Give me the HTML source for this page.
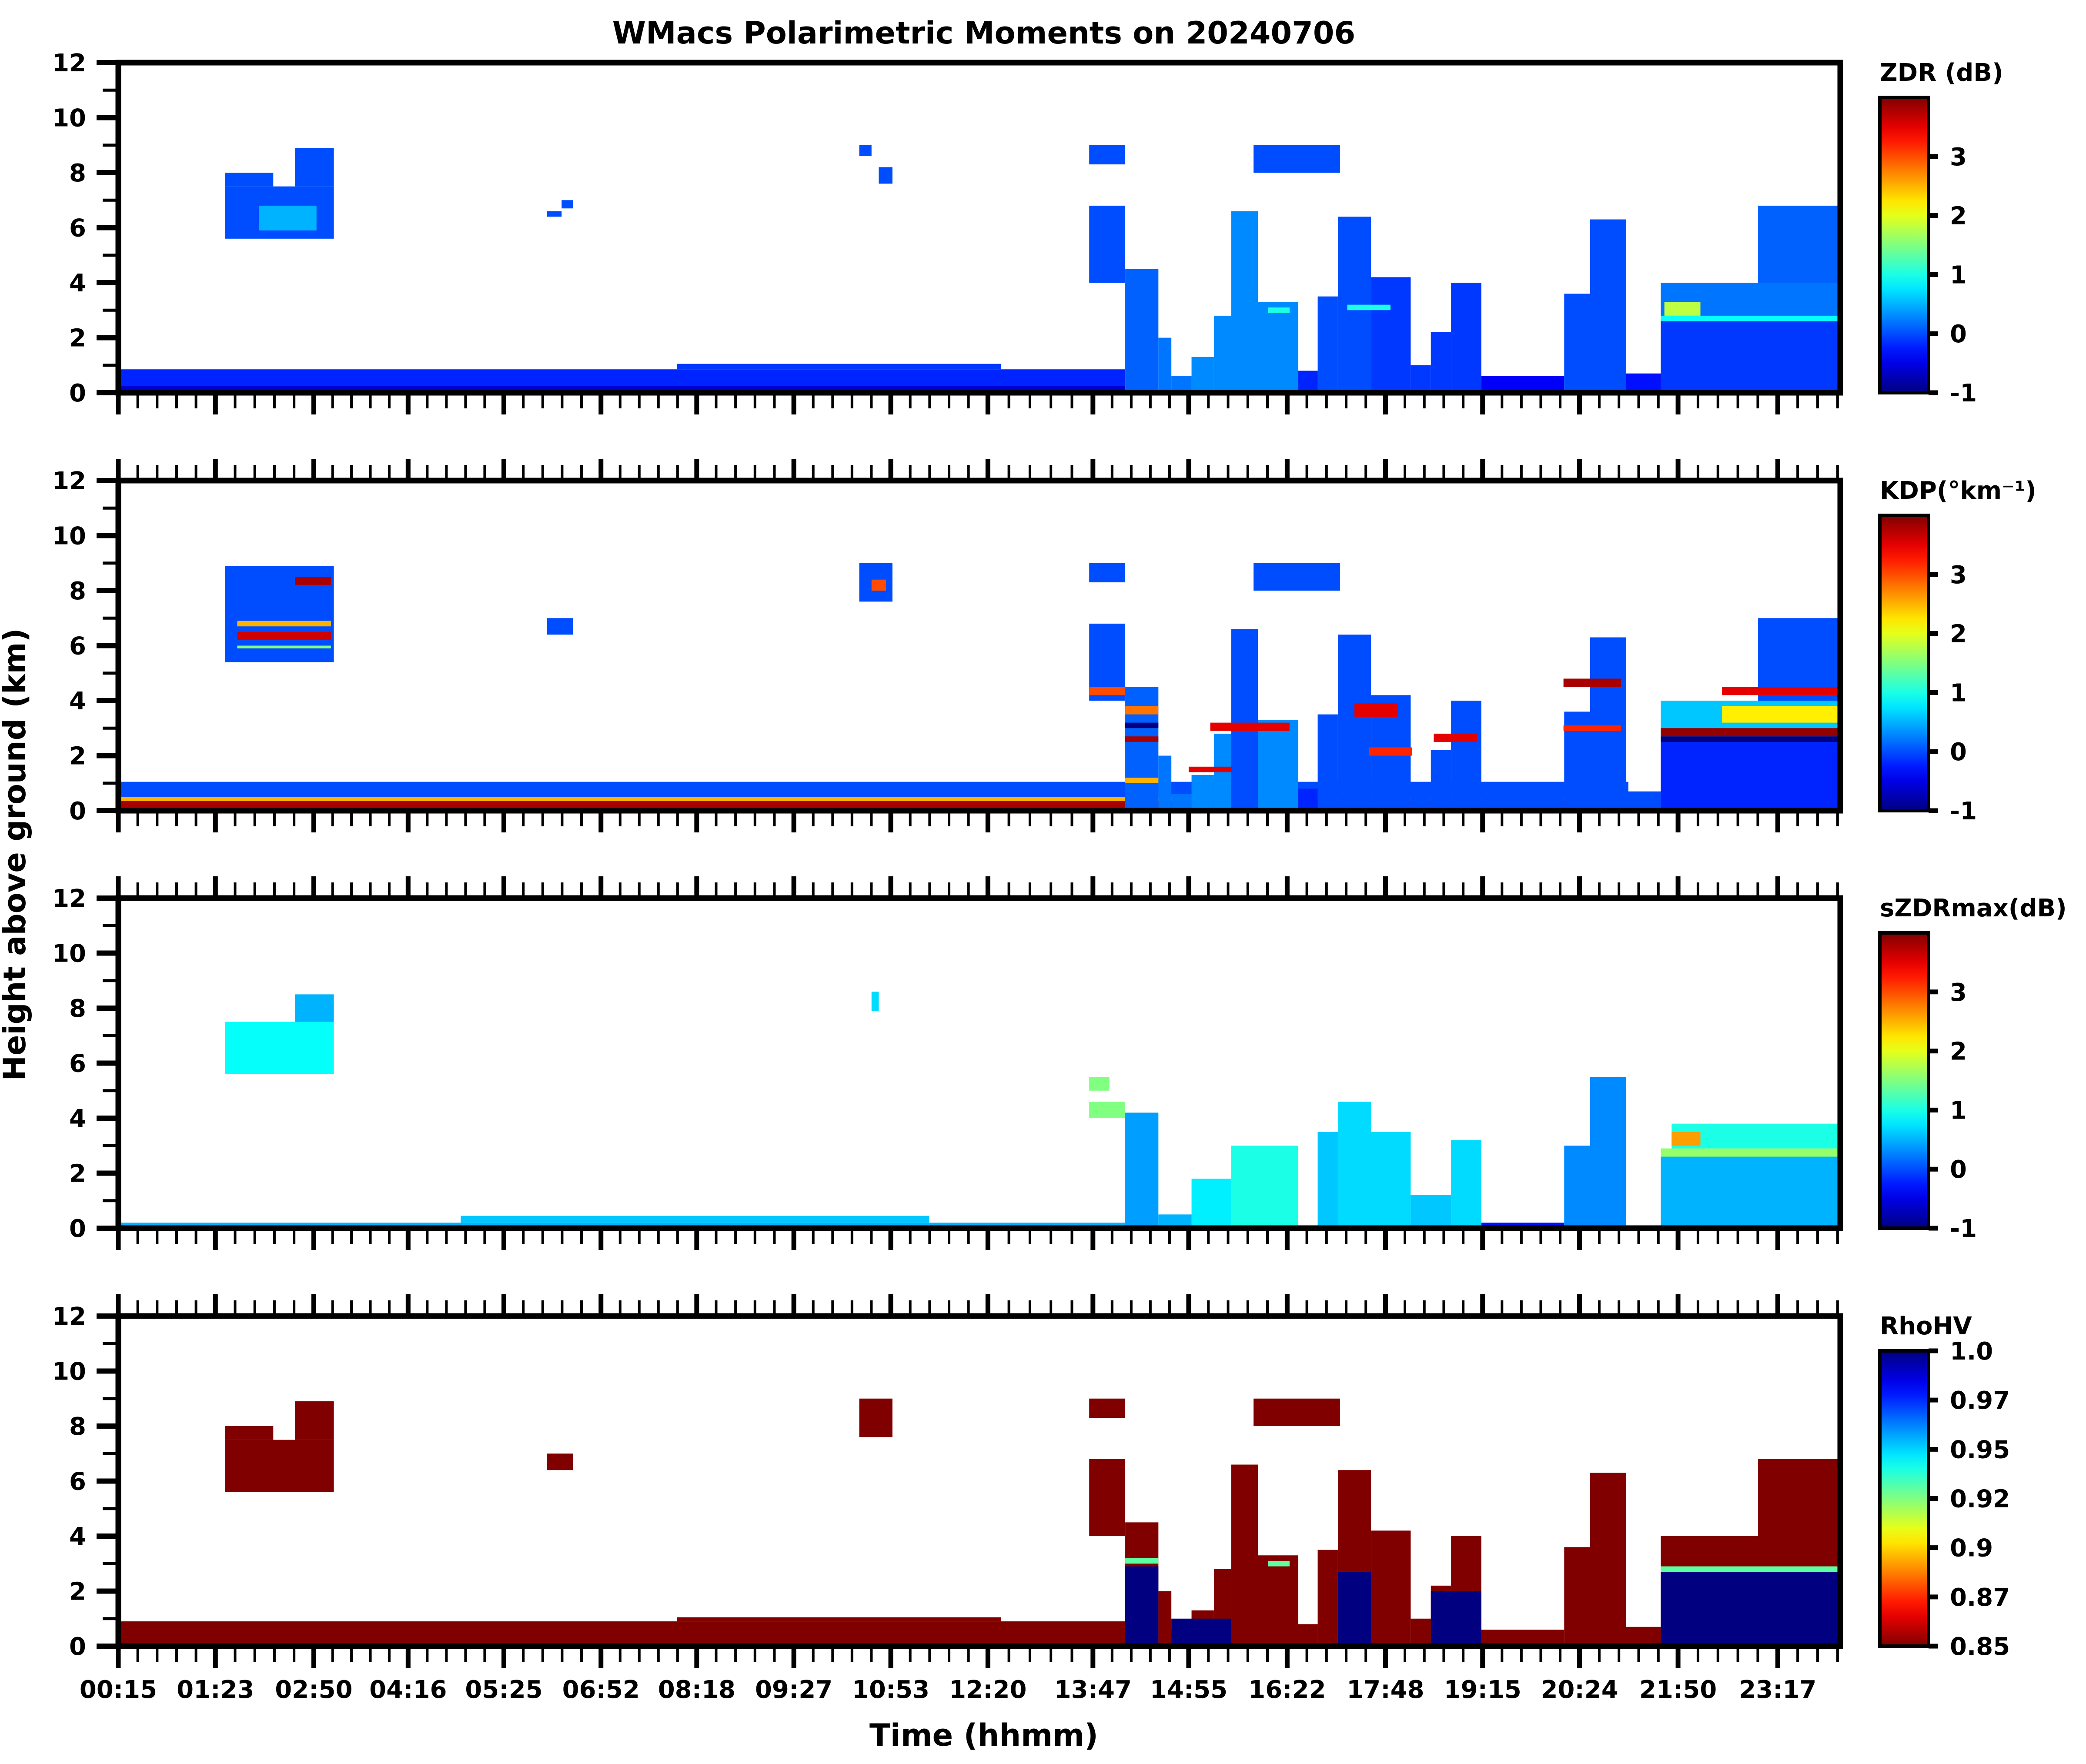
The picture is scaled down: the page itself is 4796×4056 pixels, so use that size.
<!DOCTYPE html>
<html><head><meta charset="utf-8"><title>WMacs Polarimetric Moments</title>
<style>
html,body{margin:0;padding:0;background:#fff;}
svg{display:block;font-family:"DejaVu Sans","Liberation Sans",sans-serif;font-weight:bold;}
</style></head>
<body>
<svg id="fig" xmlns="http://www.w3.org/2000/svg" width="4796" height="4056" viewBox="0 0 4796 4056">
<rect x="0" y="0" width="4796" height="4056" fill="#fff"/>
<text x="2262" y="100" font-size="70" text-anchor="middle">WMacs Polarimetric Moments on 20240706</text>
<text x="2262" y="4014" font-size="70" text-anchor="middle">Time (hhmm)</text>
<text x="0" y="0" font-size="70" text-anchor="middle" transform="translate(58,1965) rotate(-90)">Height above ground (km)</text>
</svg>
<script>
// ---- data arrays ----
const tickLabels = ["00:15","01:23","02:50","04:16","05:25","06:52","08:18","09:27","10:53","12:20","13:47","14:55","16:22","17:48","19:15","20:24","21:50","23:17"];
const heightTicks = [0,2,4,6,8,10,12];
const panelNames = ["ZDR (dB)", "KDP(°km⁻¹)", "sZDRmax(dB)", "RhoHV"];
const cbTicks123 = [-1,0,1,2,3];
const rhoTicks = [0.85,0.875,0.9,0.925,0.95,0.975,1.0];
const rhoTickLabels = ["0.85","0.87","0.9","0.92","0.95","0.97","1.0"];
// segments: [t0 (h), t1 (h), h0 (km), h1 (km), value]
const zdrCells = [
 [0.25,14.22,0,0.85,-0.2],[0.25,14.22,0,0.25,-0.6],[8,12.5,0.85,1.05,-0.1],
 [1.73,3.24,5.6,7.5,0.0],[2.2,3.0,5.9,6.8,0.5],[2.7,3.24,7.5,8.9,0.0],[1.73,2.4,7.5,8.0,0.0],
 [6.2,6.4,6.4,6.6,0],[6.4,6.56,6.7,7.0,0],[10.53,10.7,8.6,9.0,0],[10.8,10.99,7.6,8.2,0],
 [13.72,14.22,8.3,9.0,0],[13.72,14.22,4.0,6.8,0],
 [14.22,14.68,0,4.5,0.1],[14.68,14.86,0,2,0.2],[14.86,15.14,0,0.6,0.2],[15.14,15.45,0,1.3,0.3],
 [15.45,15.69,0,2.8,0.3],[15.69,16.06,0,6.6,0.3],[16.06,16.62,0,3.3,0.3],[16.62,16.89,0,0.8,-0.2],
 [16.89,17.17,0,3.5,0],[17.17,17.63,0,6.4,0],[17.63,18.18,0,4.2,-0.1],[18.18,18.46,0,1.0,-0.1],
 [18.46,18.74,0,2.2,-0.1],[18.74,19.16,0,4.0,-0.1],[19.16,20.31,0,0.6,-0.4],[20.31,20.67,0,3.6,0],
 [20.67,21.17,0,6.3,0],[21.17,21.65,0,0.7,-0.3],[21.65,24.14,0,2.7,-0.1],[21.65,24.14,2.7,4.0,0.2],
 [23.0,24.14,4.0,6.8,0.1],[16.0,17.2,8.0,9.0,0],[16.2,16.5,2.9,3.1,1.0],[17.3,17.9,3.0,3.2,1.0],
 [21.65,24.14,2.6,2.8,0.9],[21.7,22.2,2.8,3.3,1.8]
];
const kdpCells = [
 [0.25,21.2,0,1.05,0],[0.25,21.2,0,0.35,3.8],[0.25,21.2,0.35,0.5,2.5],
 [1.73,3.24,5.4,8.9,0],[1.9,3.2,6.2,6.5,3.6],[1.9,3.2,6.7,6.9,2.5],[2.7,3.2,8.2,8.5,3.8],[1.9,3.2,5.9,6.0,1.5],
 [6.2,6.56,6.4,7.0,0],[10.53,10.99,7.6,9.0,0],[10.7,10.9,8.0,8.4,3.0],
 [13.72,14.22,8.3,9.0,0],[13.72,14.22,4.0,6.8,0],[13.72,14.22,4.2,4.5,3.0],
 [14.22,14.68,0,4.5,0.1],[14.68,14.86,0,2,0.2],[14.86,15.14,0,0.6,0.2],[15.14,15.45,0,1.3,0.3],
 [15.45,15.69,0,2.8,0.3],[15.69,16.06,0,6.6,0],[16.06,16.62,0,3.3,0.3],[16.62,16.89,0,0.8,-0.2],
 [16.89,17.17,0,3.5,0],[17.17,17.63,0,6.4,0],[17.63,18.18,0,4.2,0],[18.18,18.46,0,1.0,0],
 [18.46,18.74,0,2.2,0],[18.74,19.16,0,4.0,0],[19.16,20.31,0,0.6,0],[20.31,20.67,0,3.6,0],
 [20.67,21.17,0,6.3,0],[21.17,21.65,0,0.7,0],[21.65,24.14,0,2.7,-0.2],[21.65,24.14,2.7,4.0,0.6],
 [23.0,24.14,4.0,7.0,0],[16.0,17.2,8.0,9.0,0],
 [14.22,14.68,2.5,2.7,3.8],[14.22,14.68,3.5,3.8,2.8],[14.22,14.68,1.0,1.2,2.5],[15.4,16.5,2.9,3.2,3.5],
 [15.1,15.7,1.4,1.6,3.5],[17.4,18.0,3.4,3.9,3.5],[17.6,18.2,2.0,2.3,3.2],[18.5,19.1,2.5,2.8,3.5],
 [20.3,21.1,4.5,4.8,3.8],[20.3,21.1,2.9,3.1,3.2],[21.65,24.14,2.7,3.0,3.9],[22.5,24.14,3.2,3.8,2.2],
 [22.5,24.14,4.2,4.5,3.5],[14.22,14.68,3.0,3.2,-1],[21.65,24.14,2.5,2.7,-1]
];
const szdrCells = [
 [0.25,14.22,0.05,0.2,0.5],[5.0,11.5,0.2,0.45,0.6],
 [1.73,3.24,5.6,7.5,0.9],[2.7,3.24,7.5,8.5,0.5],[10.7,10.8,7.9,8.6,0.7],
 [13.72,14.22,4.0,4.6,1.5],[13.72,14.0,5.0,5.5,1.5],
 [14.22,14.68,0,4.2,0.4],[14.68,15.14,0,0.5,0.5],[15.14,15.69,0,1.8,0.8],[15.69,16.62,0,3.0,1.0],
 [16.89,17.17,0,3.5,0.6],[17.17,17.63,0,4.6,0.7],[17.63,18.18,0,3.5,0.7],[18.18,18.74,0,1.2,0.6],
 [18.74,19.16,0,3.2,0.7],[19.16,20.31,0,0.2,-0.3],[20.31,20.67,0,3.0,0.3],[20.67,21.17,0,5.5,0.3],
 [21.65,24.14,0,2.7,0.5],[21.65,24.14,2.6,2.9,1.6],[21.8,24.14,2.9,3.8,1.0],[21.8,22.2,3.0,3.5,2.6]
];
const rhoCells = [
 [0.25,14.22,0,0.9,0.85],[8,12.5,0.9,1.05,0.85],
 [1.73,3.24,5.6,7.5,0.85],[2.7,3.24,7.5,8.9,0.85],[1.73,2.4,7.5,8.0,0.85],
 [6.2,6.56,6.4,7.0,0.85],[10.53,10.99,7.6,9.0,0.85],
 [13.72,14.22,8.3,9.0,0.85],[13.72,14.22,4.0,6.8,0.85],
 [14.22,14.68,0,4.5,0.85],[14.68,14.86,0,2,0.85],[14.86,15.14,0,0.6,0.85],[15.14,15.45,0,1.3,0.85],
 [15.45,15.69,0,2.8,0.85],[15.69,16.06,0,6.6,0.85],[16.06,16.62,0,3.3,0.85],[16.62,16.89,0,0.8,0.85],
 [16.89,17.17,0,3.5,0.85],[17.17,17.63,0,6.4,0.85],[17.63,18.18,0,4.2,0.85],[18.18,18.46,0,1.0,0.85],
 [18.46,18.74,0,2.2,0.85],[18.74,19.16,0,4.0,0.85],[19.16,20.31,0,0.6,0.85],[20.31,20.67,0,3.6,0.85],
 [20.67,21.17,0,6.3,0.85],[21.17,21.65,0,0.7,0.85],[21.65,24.14,0,4.0,0.85],[23.0,24.14,4.0,6.8,0.85],
 [16.0,17.2,8.0,9.0,0.85],
 [14.22,14.68,0,2.9,1.0],[14.86,15.69,0,1.0,1.0],[17.17,17.63,0,2.7,1.0],[18.46,19.16,0,2.0,1.0],
 [21.65,24.14,0,2.7,1.0],[21.65,24.14,2.7,2.9,0.93],[14.22,14.68,3.0,3.2,0.93],[16.2,16.5,2.9,3.1,0.93]
];

// ---- layout ----
const svg = document.getElementById('fig');
const NS = 'http://www.w3.org/2000/svg';
const X0 = 272, X1 = 4231, T0 = 0.25, T1 = 24.14;
const PANEL_TOPS = [144, 1105, 2065, 3026], PH = 759;
const tickFrac = [0,0.0564,0.1135,0.1683,0.2239,0.2803,0.3359,0.3923,0.4486,0.5050,0.5660,0.6216,0.6788,0.7359,0.7923,0.8486,0.9058,0.9637];
function xScale(t){ return X0 + (t - T0) / (T1 - T0) * (X1 - X0); }
function fracX(f){ return X0 + f * (X1 - X0); }
function yScale(h, top){ return top + PH - h / 12 * PH; }
function jet(f){
  f = Math.max(0, Math.min(1, f));
  const r = Math.max(0, Math.min(1, 1.5 - Math.abs(4*f - 3)));
  const g = Math.max(0, Math.min(1, 1.5 - Math.abs(4*f - 2)));
  const b = Math.max(0, Math.min(1, 1.5 - Math.abs(4*f - 1)));
  return 'rgb(' + Math.round(r*255) + ',' + Math.round(g*255) + ',' + Math.round(b*255) + ')';
}
function mk(tag, attrs, parent){
  const e = document.createElementNS(NS, tag);
  for (const k in attrs) e.setAttribute(k, attrs[k]);
  (parent || svg).appendChild(e);
  return e;
}
const cellSets = [zdrCells, kdpCells, szdrCells, rhoCells];
const cmapFrac = [
  v => (v + 1) / 5, v => (v + 1) / 5, v => (v + 1) / 5, v => 1 - (v - 0.85) / 0.15
];

const defs = mk('defs', {});
const gj = mk('linearGradient', {id:'jetv', x1:0, y1:1, x2:0, y2:0}, defs);
const gr = mk('linearGradient', {id:'jetr', x1:0, y1:0, x2:0, y2:1}, defs);
for (let i = 0; i <= 20; i++){
  mk('stop', {offset: (i/20), 'stop-color': jet(i/20)}, gj);
  mk('stop', {offset: (i/20), 'stop-color': jet(i/20)}, gr);
}

const allTicks = [];
for (let i = 0; i < tickFrac.length; i++){
  allTicks.push([tickFrac[i], true]);
  const step = i < tickFrac.length - 1 ? (tickFrac[i+1] - tickFrac[i]) / 5 : (tickFrac[i] - tickFrac[i-1]) / 5;
  for (let k = 1; k < 5; k++){ const f = tickFrac[i] + step * k; if (f <= 1.001) allTicks.push([f, false]); }
  if (i === tickFrac.length - 1){ const f = tickFrac[i] + step * 5; if (f <= 1.001) allTicks.push([f, true]); }
}

PANEL_TOPS.forEach((top, p) => {
  const g = mk('g', {});
  
  
  const bottom = top + PH;
  cellSets[p].forEach(c => {
    const x = xScale(c[0]), x2 = xScale(c[1]), y = yScale(c[3], top), y2 = yScale(c[2], top);
    const r = mk('rect', {x:x, y:y, width:x2-x, height:y2-y, fill: jet(cmapFrac[p](c[4]))}, g);
    
    
  });
  for (let h = 0; h <= 12; h++){
    const y = yScale(h, top), major = h % 2 === 0;
    const t = mk('line', {x1: X0 - (major ? 50 : 36), x2: X0, y1: y, y2: y, stroke:'#000', 'stroke-width': major ? 12 : 7}, g);
    
    
  }
  heightTicks.forEach(h => {
    const lt = mk('text', {x: 198, y: yScale(h, top) + 20, 'font-size': 56, 'text-anchor':'end'}, g);
    lt.textContent = String(h);
    
    
  });
  allTicks.forEach(([f, major]) => {
    const x = fracX(f);
    const b = mk('line', {x1:x, x2:x, y1:bottom, y2: bottom + (major ? 50 : 36), stroke:'#000', 'stroke-width': major ? 11 : 6}, g);
    
    
    if (p > 0){
      const tt = mk('line', {x1:x, x2:x, y1:top, y2: top - (major ? 50 : 36), stroke:'#000', 'stroke-width': major ? 11 : 6}, g);
      
      
    }
  });
  const fr = mk('rect', {x:X0, y:top, width:X1-X0, height:PH, fill:'none', stroke:'#000', 'stroke-width':13}, g);
  
  
  const cbTop = top + 80, cbBot = bottom, cbX = 4322, cbW = 112;
  const cb = mk('rect', {x:cbX, y:cbTop, width:cbW, height:cbBot-cbTop, fill: p === 3 ? 'url(#jetr)' : 'url(#jetv)', stroke:'#000', 'stroke-width':8}, g);
  
  
  const cl = mk('text', {x: 4322, y: top + 42, 'font-size': 56}, g);
  cl.textContent = panelNames[p];
  
  
  const vals = p === 3 ? rhoTicks : cbTicks123;
  const labs = p === 3 ? rhoTickLabels : cbTicks123.map(String);
  vals.forEach((v, i) => {
    const f = p === 3 ? (v - 0.85) / 0.15 : (v + 1) / 5;
    const y = cbBot - f * (cbBot - cbTop);
    const tk = mk('line', {x1: cbX + cbW, x2: cbX + cbW + 22, y1: y, y2: y, stroke:'#000', 'stroke-width':11}, g);
    
    
    const tl = mk('text', {x: 4483, y: y + 20, 'font-size': 56}, g);
    tl.textContent = labs[i];
    
    
  });
});
tickLabels.forEach((lab, i) => {
  const tl = mk('text', {x: fracX(tickFrac[i]), y: 3904, 'font-size': 56, 'text-anchor':'middle'});
  tl.textContent = lab;
  
  
});
</script>
</body></html>
